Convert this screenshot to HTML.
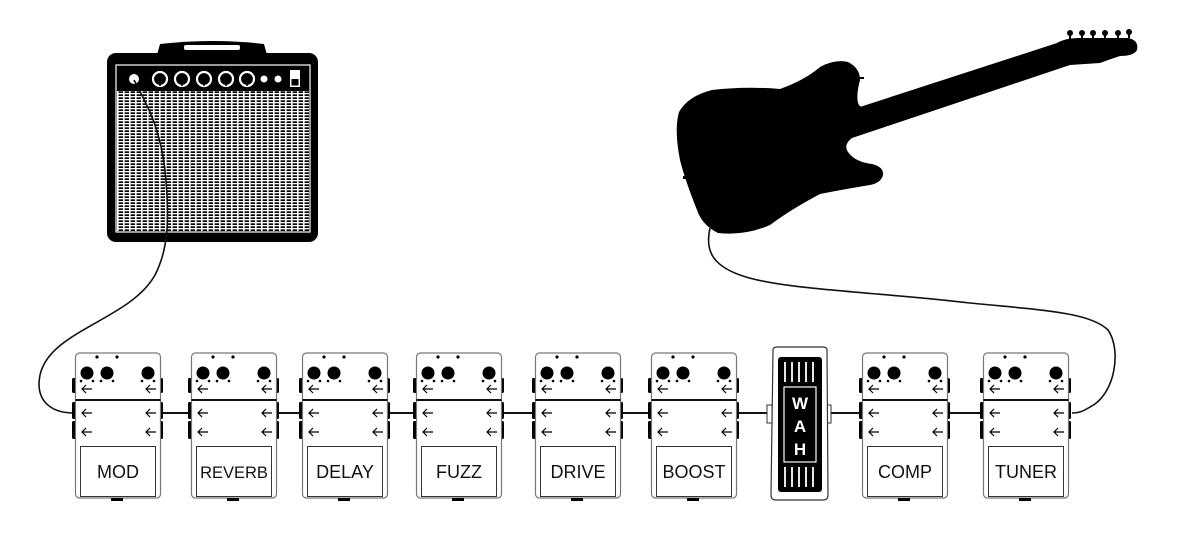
<!DOCTYPE html>
<html><head><meta charset="utf-8"><style>
html,body{margin:0;padding:0;background:#fff;}
svg{display:block;}
text{font-family:"Liberation Sans",sans-serif;}
</style></head><body>
<svg width="1182" height="545" viewBox="0 0 1182 545" xmlns="http://www.w3.org/2000/svg">
<defs>
<pattern id="grille" x="117" y="90" width="6" height="3" patternUnits="userSpaceOnUse">
<rect width="6" height="3" fill="#000"/>
<rect x="0" y="0" width="6" height="1.3" fill="#fff"/>
<rect x="0" y="0" width="1.6" height="3" fill="#fff"/>
</pattern>
<g id="pedal">
<rect x="-3" y="378" width="5" height="15" rx="1.5" fill="#000"/>
<rect x="-3" y="402" width="5" height="17" rx="1.5" fill="#000"/>
<rect x="-3" y="421" width="5" height="18" rx="1.5" fill="#000"/>
<rect x="83" y="378" width="5" height="15" rx="1.5" fill="#000"/>
<rect x="83" y="402" width="5" height="17" rx="1.5" fill="#000"/>
<rect x="83" y="421" width="5" height="18" rx="1.5" fill="#000"/>
<rect x="0.5" y="353" width="85" height="145" rx="4" fill="#fff" stroke="#777" stroke-width="1.2"/>
<line x1="0.5" y1="400" x2="85.5" y2="400" stroke="#111" stroke-width="2"/>
<circle cx="22" cy="357" r="1.6" fill="#000"/>
<circle cx="42" cy="357" r="1.6" fill="#000"/>
<circle cx="12" cy="373" r="6.5" fill="#000"/>
<circle cx="32" cy="373" r="6.5" fill="#000"/>
<circle cx="73" cy="373" r="6.5" fill="#000"/>
<g fill="#000"><circle cx="6" cy="381" r="1.3"/><circle cx="18" cy="381" r="1.3"/><circle cx="26" cy="381" r="1.3"/><circle cx="38" cy="381" r="1.3"/><circle cx="67" cy="381" r="1.3"/><circle cx="79" cy="381" r="1.3"/></g>
<g stroke="#000" stroke-width="1.2" fill="none">
<path d="M7 389h10M11 385l-4 4 4 4"/><path d="M71 389h10M75 385l-4 4 4 4"/>
<path d="M7 413h10M11 409l-4 4 4 4"/><path d="M71 413h10M75 409l-4 4 4 4"/>
<path d="M7 432h10M11 428l-4 4 4 4"/><path d="M71 432h10M75 428l-4 4 4 4"/>
</g>
<rect x="5.5" y="446.5" width="75" height="50" fill="#fff" stroke="#333" stroke-width="1"/>
<rect x="36" y="498" width="12" height="3" fill="#000"/>
</g>
</defs>

<!-- connecting lines -->
<g stroke="#111" stroke-width="2">
<line x1="160" y1="413" x2="191" y2="413"/>
<line x1="276" y1="413" x2="302" y2="413"/>
<line x1="387" y1="413" x2="417" y2="413"/>
<line x1="502" y1="413" x2="535" y2="413"/>
<line x1="620" y1="413" x2="652" y2="413"/>
<line x1="737" y1="413" x2="770" y2="413"/>
<line x1="828" y1="413" x2="862" y2="413"/>
<line x1="947" y1="413" x2="983" y2="413"/>
</g>

<!-- amp -->
<path d="M157 55 L160 44 Q212 38 264 44 L267 55 Z" fill="#000"/>
<rect x="184" y="45" width="56" height="5" rx="2" fill="#fff"/>
<rect x="107" y="53" width="211" height="189" rx="9" fill="#000"/>
<rect x="116" y="65" width="194" height="167" fill="none" stroke="#fff" stroke-width="1.2"/>
<rect x="117" y="91" width="192" height="140" fill="url(#grille)"/>
<circle cx="134" cy="79" r="5" fill="#fff"/>
<g fill="none" stroke="#fff" stroke-width="2.2">
<circle cx="160" cy="79" r="7"/><circle cx="182" cy="79" r="7"/><circle cx="204" cy="79" r="7"/><circle cx="226" cy="79" r="7"/><circle cx="247" cy="79" r="7"/>
</g>
<g stroke="#000" stroke-width="1.5"><line x1="160" y1="79" x2="160" y2="86"/><line x1="182" y1="79" x2="182" y2="86"/><line x1="204" y1="79" x2="204" y2="86"/><line x1="226" y1="79" x2="226" y2="86"/><line x1="247" y1="79" x2="247" y2="86"/></g>
<circle cx="264" cy="79" r="3.5" fill="#fff"/><circle cx="278" cy="79" r="3.5" fill="#fff"/>
<rect x="290" y="70" width="10" height="17" fill="#fff"/><rect x="291.5" y="79" width="7" height="6.5" fill="#000"/>

<!-- amp cable -->
<path d="M134 80 C150 110 160 130 165 170 C170 220 168 250 155 275 C130 320 50 330 40 375 C35 400 50 413 74 413" fill="none" stroke="#111" stroke-width="1.6"/>

<!-- guitar -->
<path d="M863 106 L1057 43 Q1065 38 1080 38 L1128 38 Q1139 40 1137 50 Q1134 56 1120 56 Q1108 60 1100 63 L1070 65 L852 138 Q843 145 848 152 Q855 162 872 164 Q884 167 883 175 Q881 183 870 185 Q840 190 820 194 Q790 210 770 225 Q745 236 718 233 Q702 225 697 210 Q685 180 680 160 Q674 130 679 112 Q688 96 712 90 Q745 86 780 89 Q805 80 820 67 Q835 59 848 62 Q860 68 860 80 Q856 95 858 103 Q860 108 863 106 Z" fill="#000"/>
<g fill="#000"><circle cx="1070" cy="33" r="3"/><circle cx="1082" cy="33" r="3"/><circle cx="1093" cy="33" r="3"/><circle cx="1105" cy="33" r="3"/><circle cx="1118" cy="33" r="3"/><circle cx="1129" cy="32" r="3"/>
<rect x="1069" y="33" width="2" height="6"/><rect x="1081" y="33" width="2" height="6"/><rect x="1092" y="33" width="2" height="6"/><rect x="1104" y="33" width="2" height="6"/><rect x="1117" y="33" width="2" height="6"/><rect x="1128" y="32" width="2" height="6"/></g>
<rect x="860" y="77" width="4" height="2" fill="#000"/>
<rect x="683" y="176" width="3" height="3" fill="#000"/>

<!-- guitar cable -->
<path d="M710 228 C705 250 712 265 740 275 C780 290 880 292 970 303 C1040 310 1090 312 1108 330 C1122 350 1115 395 1090 407 C1082 412 1078 413 1072 413" fill="none" stroke="#111" stroke-width="1.6"/>

<!-- pedals -->
<use href="#pedal" x="75"/>
<use href="#pedal" x="191"/>
<use href="#pedal" x="302"/>
<use href="#pedal" x="416"/>
<use href="#pedal" x="535"/>
<use href="#pedal" x="651"/>
<use href="#pedal" x="862"/>
<use href="#pedal" x="983"/>
<g font-size="18" text-anchor="middle" fill="#111">
<text x="118" y="478">MOD</text>
<text x="234" y="478" font-size="16.5">REVERB</text>
<text x="345" y="478">DELAY</text>
<text x="459" y="478">FUZZ</text>
<text x="578" y="478">DRIVE</text>
<text x="694" y="478">BOOST</text>
<text x="905" y="478">COMP</text>
<text x="1026" y="478">TUNER</text>
</g>

<!-- wah -->
<rect x="767" y="405" width="5" height="18" fill="#fff" stroke="#333" stroke-width="1"/>
<rect x="826" y="405" width="5" height="18" fill="#fff" stroke="#333" stroke-width="1"/>
<path d="M773 350 Q773 347 777 347 L823 347 Q827 347 827 350 L828 495 Q828 500 823 500 L776 500 Q771 500 771 495 Z" fill="#fff" stroke="#333" stroke-width="1.2"/>
<rect x="778" y="357" width="44" height="135" rx="3" fill="#000"/>
<g stroke="#fff" stroke-width="1.8">
<line x1="785" y1="362" x2="785" y2="382"/><line x1="792" y1="362" x2="792" y2="382"/><line x1="799" y1="362" x2="799" y2="382"/><line x1="806" y1="362" x2="806" y2="382"/><line x1="813" y1="362" x2="813" y2="382"/>
<line x1="785" y1="467" x2="785" y2="487"/><line x1="792" y1="467" x2="792" y2="487"/><line x1="799" y1="467" x2="799" y2="487"/><line x1="806" y1="467" x2="806" y2="487"/><line x1="813" y1="467" x2="813" y2="487"/>
</g>
<rect x="784" y="387" width="32" height="75" fill="none" stroke="#fff" stroke-width="1.2"/>
<g fill="#fff" font-size="17" font-weight="bold" text-anchor="middle">
<text x="800" y="409">W</text><text x="800" y="432">A</text><text x="800" y="455">H</text>
</g>
</svg>
</body></html>
